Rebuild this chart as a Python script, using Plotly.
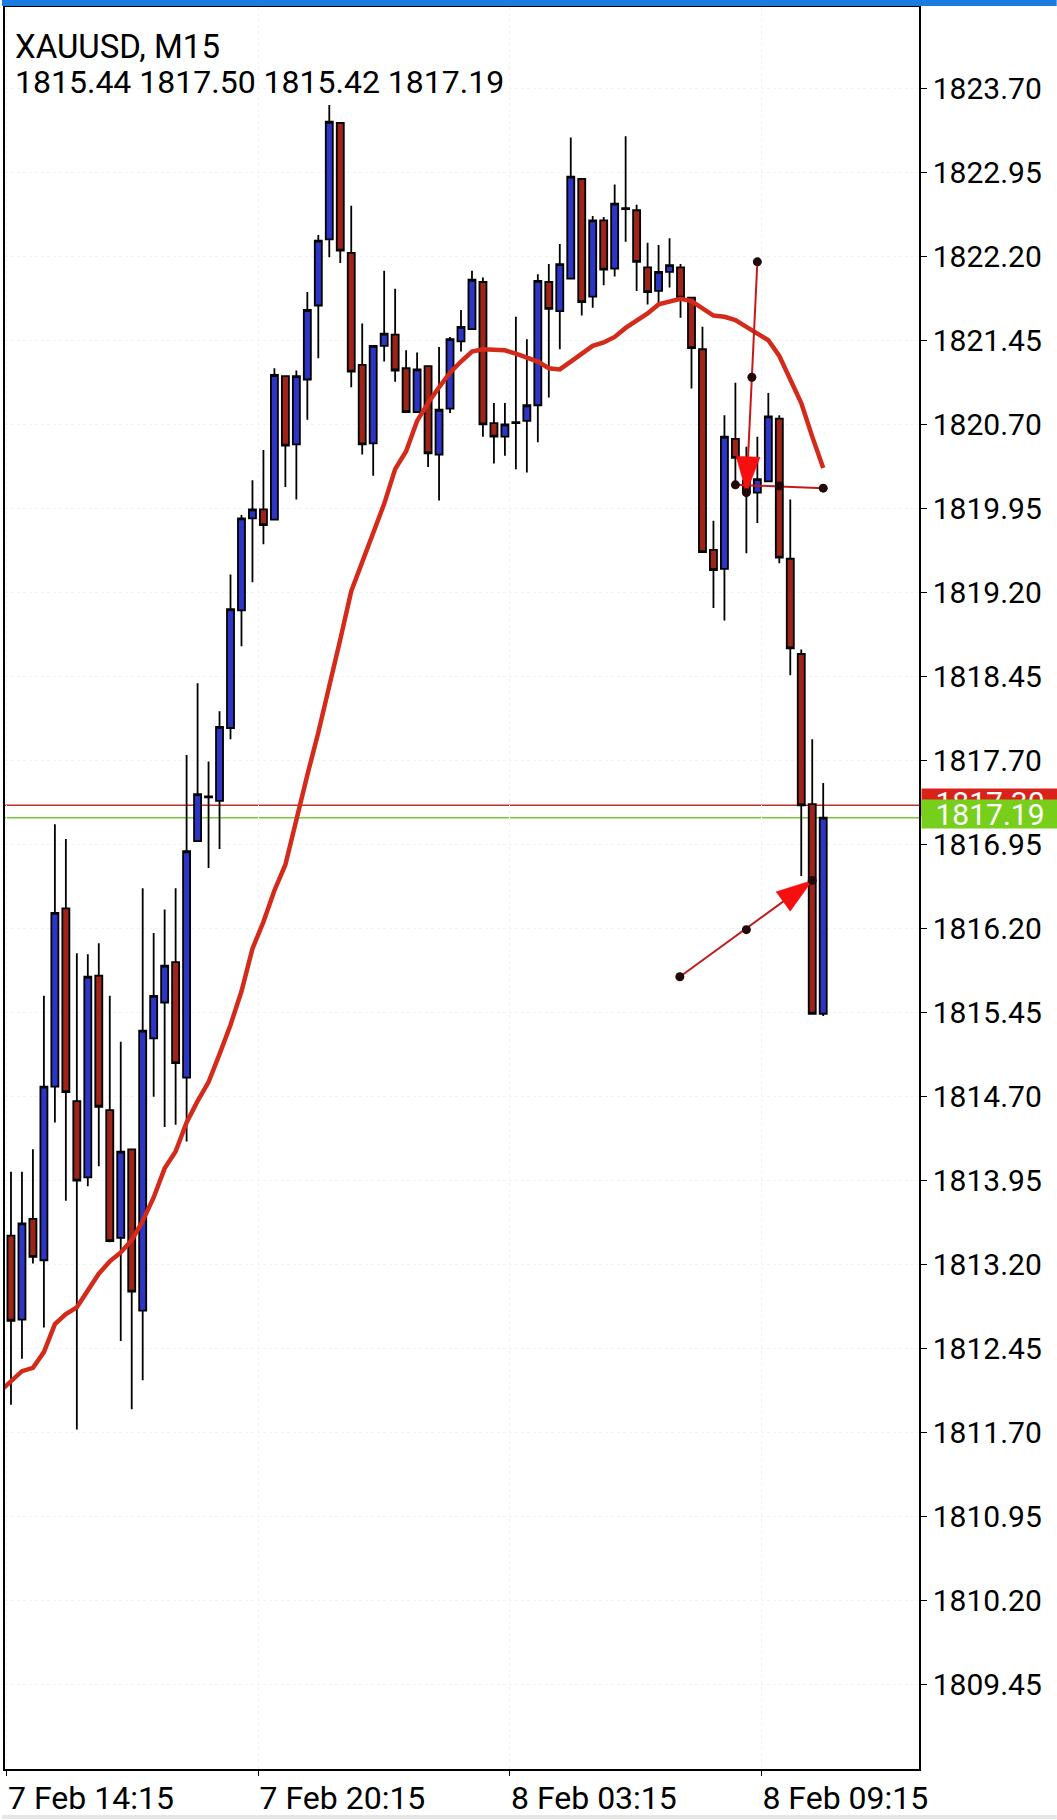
import math
import plotly.graph_objects as go

# ---------------- data ----------------
symbol_title = "XAUUSD, M15"
ohlc_text = "1815.44 1817.50 1815.42 1817.19"

opens = [1813.46, 1812.71, 1813.61, 1813.24, 1814.79, 1816.38, 1814.66, 1813.98, 1815.78, 1814.58,
         1813.44, 1814.23, 1812.79, 1815.22, 1815.54, 1815.90, 1814.87, 1816.98, 1817.37, 1817.34,
         1817.99, 1819.04, 1819.86, 1819.94, 1819.85, 1821.13, 1820.52, 1821.10, 1821.76, 1822.35,
         1823.39, 1822.23, 1821.23, 1820.53, 1821.40, 1821.50, 1821.20, 1820.81, 1821.22, 1820.43,
         1820.84, 1821.44, 1821.55, 1821.97, 1820.71, 1820.59, 1820.71, 1820.73, 1820.87, 1821.97,
         1821.71, 1822.00, 1822.89, 1821.84, 1822.52, 1822.09, 1822.62, 1822.61, 1822.10, 1821.89,
         1822.06, 1822.10, 1821.83, 1821.37, 1819.58, 1819.41, 1820.57, 1820.20, 1820.09, 1820.19,
         1820.75, 1819.50, 1818.65, 1817.31, 1815.44]
highs = [1814.03, 1814.03, 1814.23, 1815.60, 1817.13, 1817.00, 1815.98, 1815.97, 1816.07, 1815.60,
         1815.19, 1814.23, 1816.56, 1816.16, 1816.37, 1816.56, 1817.75, 1818.39, 1817.69, 1818.14,
         1819.36, 1819.89, 1820.20, 1820.47, 1821.20, 1821.13, 1821.18, 1821.88, 1822.39, 1823.55,
         1823.39, 1822.65, 1821.60, 1821.40, 1822.07, 1821.91, 1821.36, 1821.34, 1821.22, 1821.39,
         1821.48, 1821.72, 1822.07, 1822.01, 1820.89, 1820.89, 1821.66, 1821.46, 1822.04, 1822.13,
         1822.31, 1823.26, 1822.89, 1822.56, 1822.55, 1822.84, 1823.27, 1822.66, 1822.32, 1822.30,
         1822.36, 1822.13, 1821.83, 1821.57, 1819.84, 1820.78, 1821.07, 1820.50, 1820.59, 1820.98,
         1820.78, 1820.03, 1818.69, 1817.89, 1817.50]
lows = [1811.95, 1812.36, 1813.21, 1812.64, 1814.47, 1813.77, 1811.73, 1813.90, 1814.08, 1813.40,
        1812.52, 1811.91, 1812.17, 1814.70, 1814.43, 1814.45, 1814.30, 1816.98, 1816.74, 1816.91,
        1817.89, 1818.72, 1819.29, 1819.63, 1819.85, 1820.14, 1820.03, 1820.74, 1821.29, 1822.19,
        1822.14, 1821.03, 1820.43, 1820.24, 1821.26, 1821.08, 1820.81, 1820.81, 1820.32, 1820.02,
        1820.80, 1821.35, 1821.55, 1820.59, 1820.35, 1820.42, 1820.30, 1820.27, 1820.54, 1820.94,
        1821.37, 1822.00, 1821.67, 1821.74, 1821.94, 1822.02, 1822.33, 1821.89, 1821.77, 1821.78,
        1821.92, 1821.65, 1821.02, 1819.56, 1819.06, 1818.95, 1820.16, 1819.55, 1819.82, 1820.19,
        1819.46, 1818.46, 1816.67, 1815.44, 1815.42]
closes = [1812.70, 1813.57, 1813.27, 1814.79, 1816.34, 1814.74, 1813.95, 1815.77, 1814.61, 1813.41,
          1814.21, 1812.96, 1815.29, 1815.60, 1815.87, 1815.00, 1816.89, 1817.40, 1817.38, 1818.00,
          1819.05, 1819.86, 1819.94, 1819.80, 1821.14, 1820.51, 1821.13, 1821.72, 1822.34, 1823.40,
          1822.25, 1821.17, 1820.52, 1821.40, 1821.51, 1821.18, 1820.81, 1821.19, 1820.44, 1820.83,
          1821.46, 1821.57, 1821.99, 1820.70, 1820.59, 1820.70, 1820.72, 1820.87, 1821.98, 1821.73,
          1822.13, 1822.91, 1821.79, 1822.52, 1822.08, 1822.67, 1822.63, 1822.15, 1821.88, 1822.06,
          1822.12, 1821.83, 1821.38, 1819.56, 1819.40, 1820.59, 1820.40, 1820.10, 1820.21, 1820.77,
          1819.51, 1818.70, 1817.30, 1815.44, 1817.19]

# moving average, starting one bar before the first visible candle
ma_first_index = -1
ma_values = [1812.07, 1812.16, 1812.25, 1812.28, 1812.42, 1812.67, 1812.76, 1812.82, 1812.97, 1813.12,
             1813.23, 1813.31, 1813.42, 1813.59, 1813.80, 1814.06, 1814.21, 1814.47, 1814.66, 1814.83,
             1815.08, 1815.34, 1815.64, 1816.02, 1816.26, 1816.54, 1816.77, 1817.18, 1817.57, 1817.95,
             1818.35, 1818.78, 1819.21, 1819.47, 1819.71, 1819.99, 1820.30, 1820.46, 1820.73, 1820.89,
             1821.03, 1821.16, 1821.26, 1821.35, 1821.37, 1821.37, 1821.36, 1821.33, 1821.30, 1821.26,
             1821.20, 1821.19, 1821.26, 1821.33, 1821.40, 1821.43, 1821.48, 1821.56, 1821.62, 1821.69,
             1821.77, 1821.80, 1821.82, 1821.80, 1821.74, 1821.67, 1821.66, 1821.63, 1821.57, 1821.51,
             1821.45, 1821.31, 1821.10, 1820.89, 1820.59, 1820.31]

# time axis labels (positions in bar units)
time_tick_pos = [-0.39, 22.52, 45.43, 68.34]
time_tick_text = ["7 Feb 14:15", "7 Feb 20:15", "8 Feb 03:15", "8 Feb 09:15"]

# price axis ticks
price_ticks = [1809.45, 1810.20, 1810.95, 1811.70, 1812.45, 1813.20, 1813.95, 1814.70, 1815.45,
               1816.20, 1816.95, 1817.70, 1818.45, 1819.20, 1819.95, 1820.70, 1821.45, 1822.20,
               1822.95, 1823.70]

bid_price = 1817.19
ask_price = 1817.30

# user-drawn objects (bar index, price) incl. anchor points
arrow_down_x = [68.0, 67.5, 67.0]
arrow_down_y = [1822.15, 1821.12, 1820.09]
hline_x = [66.0, 70.0, 74.0]
hline_y = [1820.16, 1820.15, 1820.13]
arrow_up_x = [60.94, 67.0, 73.0]
arrow_up_y = [1815.77, 1816.19, 1816.63]

# ---------------- geometry / style ----------------
W, H = 1057, 1820
ML, MR, MT, MB = 3, 138, 7, 50
plot_w = W - ML - MR
plot_h = H - MT - MB
x_range = [-0.545, 82.727]
y_range = [1808.700, 1824.424]
px_per_x = plot_w / (x_range[1] - x_range[0])
px_per_y = plot_h / (y_range[1] - y_range[0])

BULL = "#2c35c4"
BEAR = "#9c2419"
MA_COLOR = "#d42a1a"
OBJ_LINE = "#c41a1a"
ARROW_FILL = "#f50f0f"
DOT = "#220808"
FONT = "Roboto, Arial, sans-serif"


def px_to_paper_x(px):
    return (px - ML) / plot_w


def px_to_paper_y(py):
    return (H - MB - py) / plot_h


def arrow_head(x0, y0, x1, y1, length_px=36, width_px=24):
    dx = (x1 - x0) * px_per_x
    dy = (y1 - y0) * px_per_y
    L = math.hypot(dx, dy)
    ux, uy = dx / L, dy / L
    bx, by = -ux * length_px, -uy * length_px
    nx, ny = -uy * width_px / 2, ux * width_px / 2
    pts = [(0, 0), (bx + nx, by + ny), (bx - nx, by - ny), (0, 0)]
    xs = [x1 + p[0] / px_per_x for p in pts]
    ys = [y1 + p[1] / px_per_y for p in pts]
    return xs, ys


bar_index = list(range(len(opens)))
ma_index = list(range(ma_first_index, ma_first_index + len(ma_values)))

fig = go.Figure()

fig.add_trace(go.Candlestick(
    x=bar_index, open=opens, high=highs, low=lows, close=closes,
    increasing=dict(fillcolor=BULL, line=dict(color="#000000", width=1.8)),
    decreasing=dict(fillcolor=BEAR, line=dict(color="#000000", width=1.8)),
    whiskerwidth=0, showlegend=False, hoverinfo="skip",
))

fig.add_trace(go.Scatter(
    x=ma_index, y=ma_values, mode="lines",
    line=dict(color=MA_COLOR, width=4.5), showlegend=False, hoverinfo="skip",
))

# object lines
for xs, ys in [(arrow_down_x, arrow_down_y), (hline_x, hline_y), (arrow_up_x, arrow_up_y)]:
    fig.add_trace(go.Scatter(
        x=[xs[0], xs[-1]], y=[ys[0], ys[-1]], mode="lines",
        line=dict(color=OBJ_LINE, width=2), showlegend=False, hoverinfo="skip",
    ))

# arrow heads
for xs, ys in [(arrow_down_x, arrow_down_y), (arrow_up_x, arrow_up_y)]:
    ax, ay = arrow_head(xs[0], ys[0], xs[-1], ys[-1])
    fig.add_trace(go.Scatter(
        x=ax, y=ay, mode="lines", fill="toself", fillcolor=ARROW_FILL,
        line=dict(color=ARROW_FILL, width=0.5), showlegend=False, hoverinfo="skip",
    ))

# anchor dots
for xs, ys in [(arrow_down_x, arrow_down_y), (hline_x, hline_y), (arrow_up_x, arrow_up_y)]:
    fig.add_trace(go.Scatter(
        x=xs, y=ys, mode="markers",
        marker=dict(color=DOT, size=9), showlegend=False, hoverinfo="skip",
    ))

shapes = [
    # ask / bid lines
    dict(type="line", xref="paper", x0=0, x1=1, yref="y", y0=ask_price, y1=ask_price,
         line=dict(color="#c0302a", width=1.5), layer="below"),
    dict(type="line", xref="paper", x0=0, x1=1, yref="y", y0=bid_price, y1=bid_price,
         line=dict(color="#7cc63c", width=1.5), layer="below"),
    # top blue status strip
    dict(type="rect", xref="paper", yref="paper",
         x0=px_to_paper_x(0), x1=px_to_paper_x(W), y0=px_to_paper_y(6), y1=px_to_paper_y(0),
         fillcolor="#1a7be0", line=dict(width=0), layer="above"),
    # bottom grey strip
    dict(type="rect", xref="paper", yref="paper",
         x0=px_to_paper_x(0), x1=px_to_paper_x(W), y0=px_to_paper_y(H), y1=px_to_paper_y(1816),
         fillcolor="#e6e6e6", line=dict(width=0), layer="above"),
]

annotations = [
    dict(text=symbol_title, xref="paper", yref="paper", x=px_to_paper_x(11), y=px_to_paper_y(25),
         xanchor="left", yanchor="top", showarrow=False,
         font=dict(family=FONT, size=33, color="#000000")),
    dict(text=ohlc_text, xref="paper", yref="paper", x=px_to_paper_x(11), y=px_to_paper_y(61),
         xanchor="left", yanchor="top", showarrow=False,
         font=dict(family=FONT, size=32, color="#000000")),
    dict(text=f"{ask_price:.2f}", xref="paper", yref="y", x=px_to_paper_x(921), y=ask_price,
         xanchor="left", yanchor="middle", yshift=3, showarrow=False, width=136, height=27,
         borderpad=0, bgcolor="#d9221a", align="center",
         font=dict(family=FONT, size=30, color="#ffffff")),
    dict(text=f"{bid_price:.2f}", xref="paper", yref="y", x=px_to_paper_x(921), y=bid_price,
         xanchor="left", yanchor="middle", yshift=4, showarrow=False, width=136, height=28,
         borderpad=0, bgcolor="#77cf1c", align="center",
         font=dict(family=FONT, size=30, color="#ffffff")),
]

fig.update_layout(
    width=W, height=H,
    margin=dict(l=ML, r=MR, t=MT, b=MB, pad=0),
    paper_bgcolor="#ffffff", plot_bgcolor="#ffffff",
    showlegend=False,
    boxgap=0.36, boxgroupgap=0,
    shapes=shapes, annotations=annotations,
    font=dict(family=FONT, color="#000000"),
)

fig.update_xaxes(
    range=x_range, rangeslider=dict(visible=False),
    tickmode="array", tickvals=time_tick_pos, ticktext=time_tick_text,
    ticks="outside", ticklen=5, tickwidth=1.2, tickcolor="#000000",
    ticklabelposition="outside right",
    tickfont=dict(family=FONT, size=32, color="#000000"),
    showline=True, mirror=True, linecolor="#000000", linewidth=1.5,
    showgrid=True, gridcolor="#f3f3f3", griddash="dot", gridwidth=1,
    zeroline=False, fixedrange=True,
)

fig.update_yaxes(
    range=y_range, side="right",
    tickmode="array", tickvals=price_ticks, ticktext=[f"{v:.2f}" for v in price_ticks],
    ticks="outside", ticklen=6, tickwidth=1.2, tickcolor="#000000",
    tickfont=dict(family=FONT, size=30, color="#000000"),
    showline=True, mirror=True, linecolor="#000000", linewidth=1.5,
    showgrid=True, gridcolor="#f3f3f3", griddash="dot", gridwidth=1,
    zeroline=False, fixedrange=True,
)

fig.write_html(
    "out.html",
    config={"displayModeBar": False},
    post_script="document.body.style.margin='0px';document.body.style.overflow='hidden';",
)
